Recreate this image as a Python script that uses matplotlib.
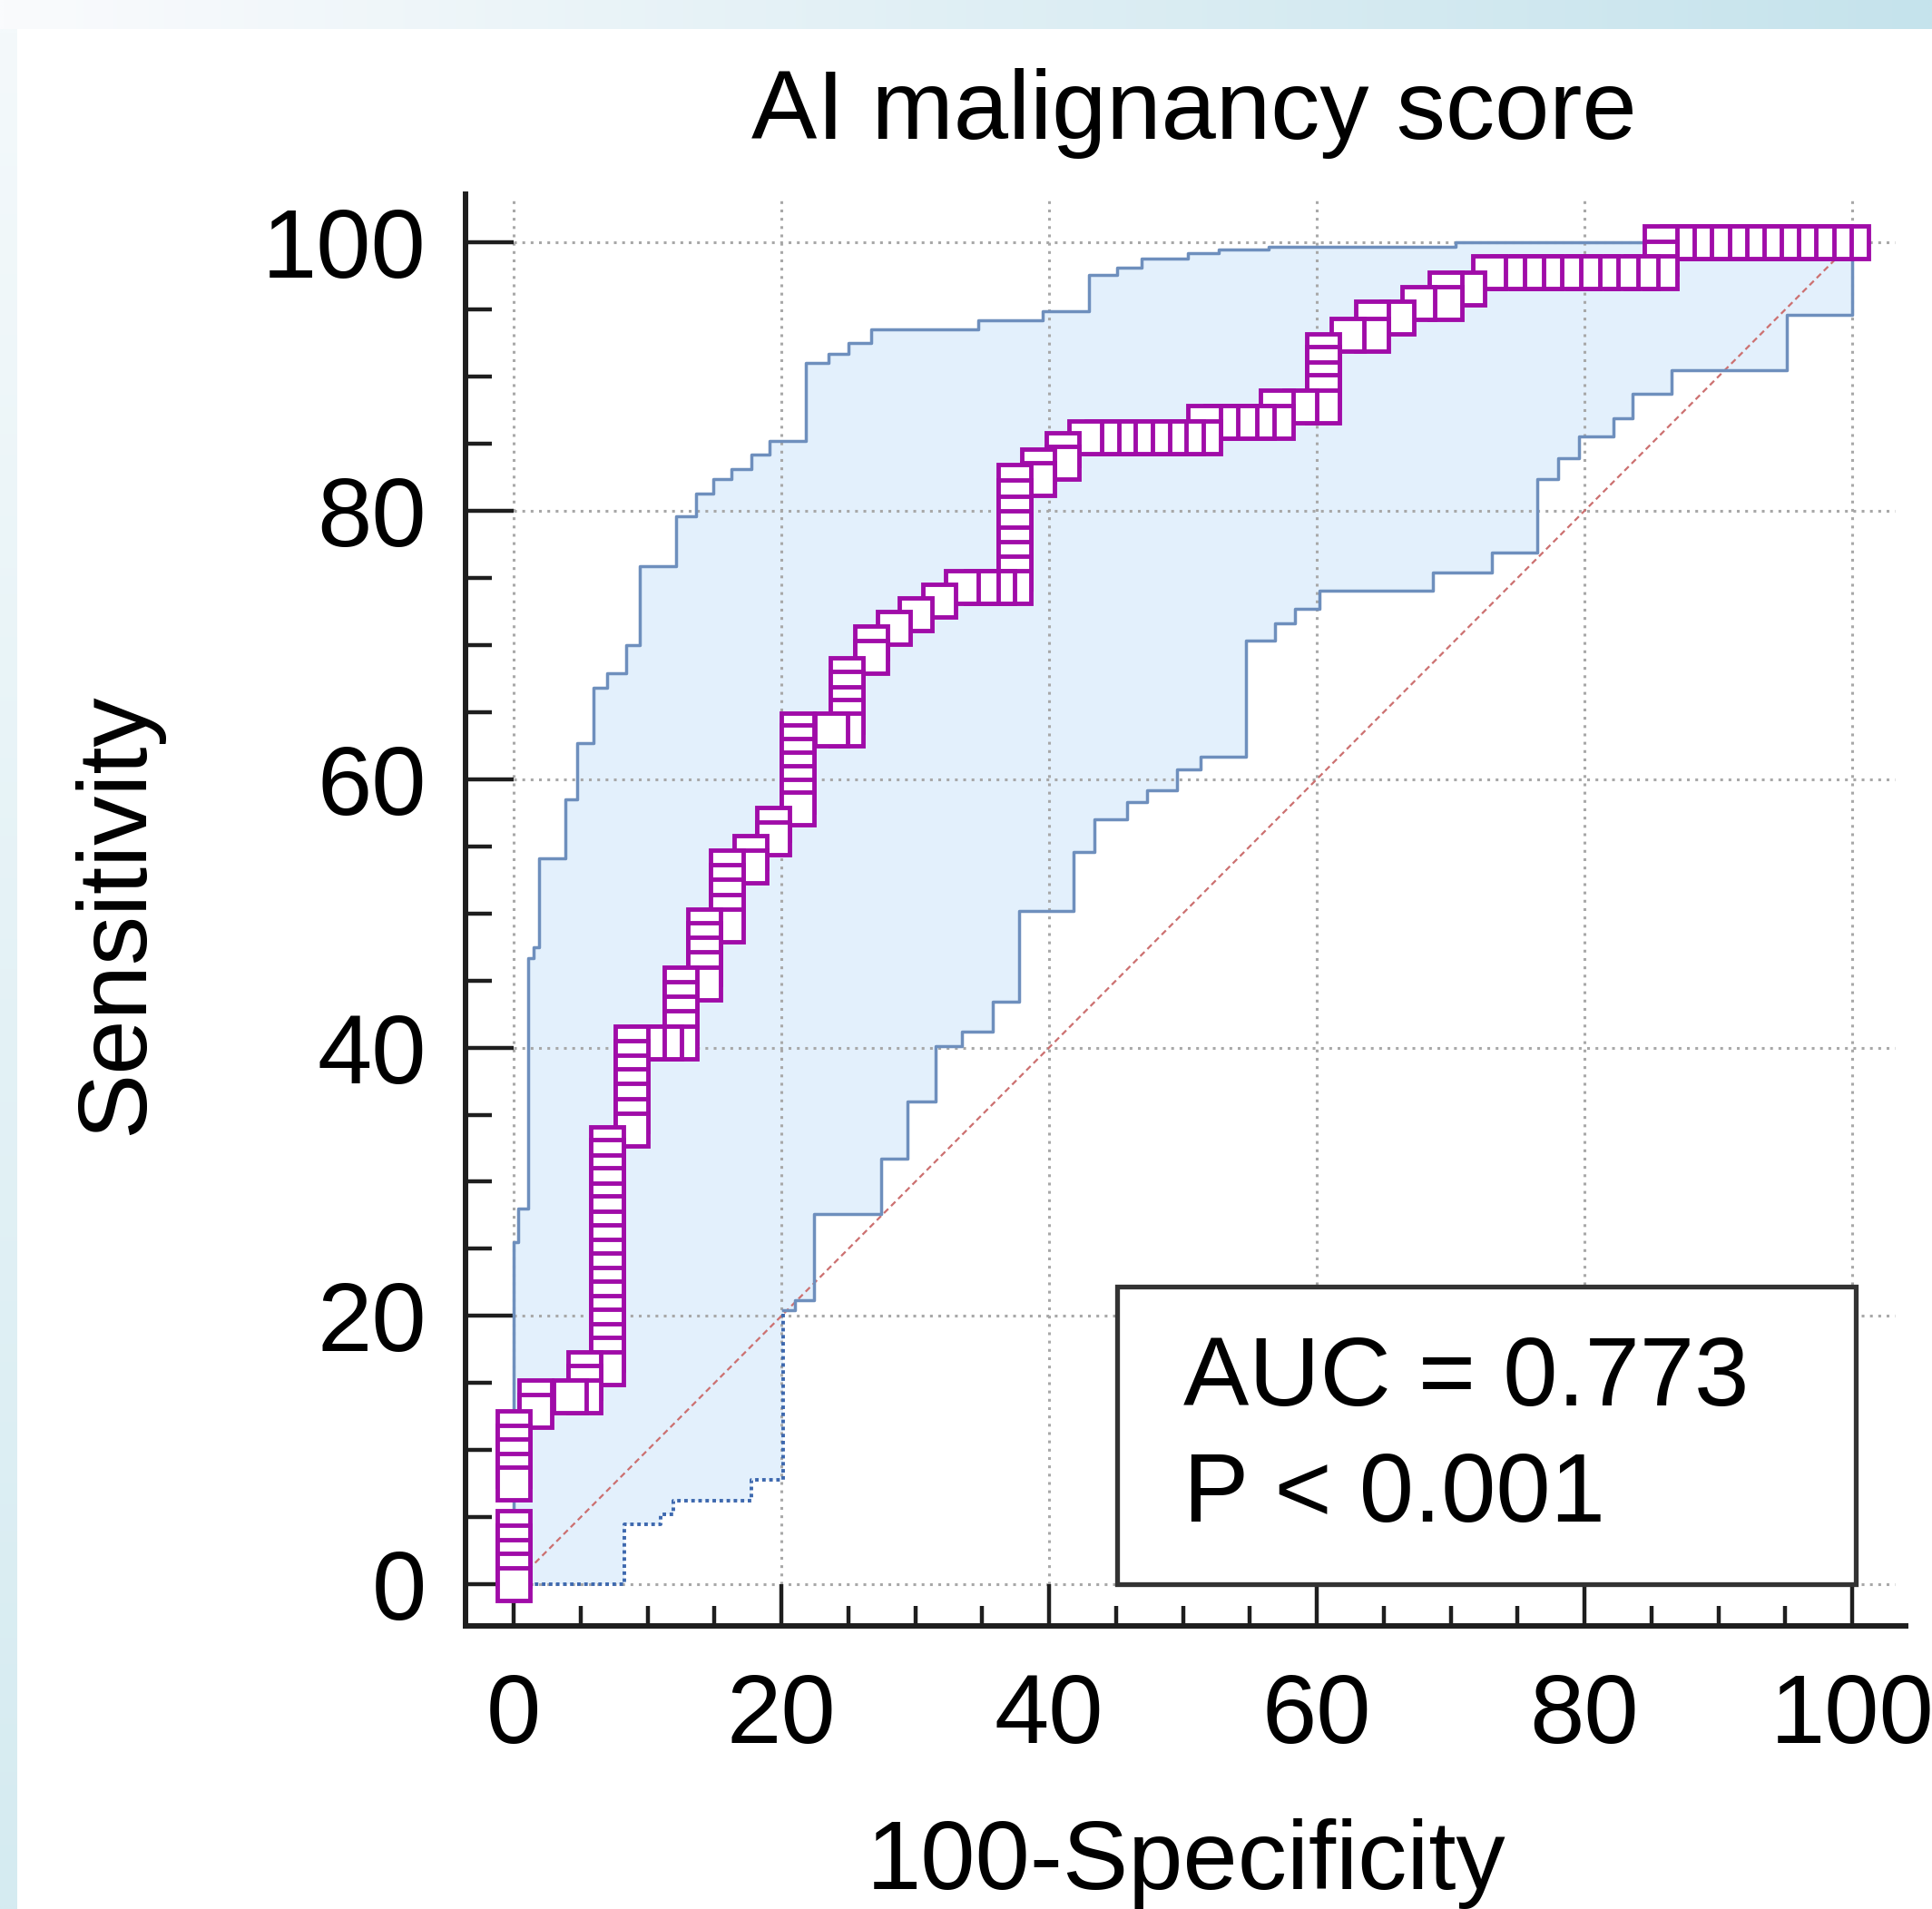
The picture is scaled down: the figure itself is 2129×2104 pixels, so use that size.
import numpy as np
import matplotlib
matplotlib.use("Agg")
import matplotlib.pyplot as plt
from matplotlib.patches import Rectangle
from matplotlib.ticker import MultipleLocator, FixedLocator

plt.rcParams['font.family'] = ['Liberation Sans', 'DejaVu Sans']

# ---------------- data ----------------
title = 'AI malignancy score'
xlabel = '100-Specificity'
ylabel = 'Sensitivity'
stat_lines = ['AUC = 0.773', 'P < 0.001']
major_ticks = [0, 20, 40, 60, 80, 100]

roc_fpr = [
    0, 0, 0, 0, 0, 0, 0, 0, 0, 0,
    1.6, 1.6,
    4.2, 5.3, 5.3, 5.3,
    7.0, 7.0, 7.0, 7.0, 7.0, 7.0, 7.0, 7.0, 7.0, 7.0, 7.0, 7.0, 7.0, 7.0, 7.0, 7.0, 7.0,
    8.8, 8.8, 8.8, 8.8, 8.8, 8.8, 8.8,
    10.0, 11.3, 12.5, 12.5, 12.5, 12.5, 12.5,
    14.2, 14.2, 14.2, 14.2, 14.2,
    15.9, 15.9, 15.9, 15.9, 15.9,
    17.7, 17.7,
    19.4, 19.4,
    21.2, 21.2, 21.2, 21.2, 21.2, 21.2, 21.2,
    23.7, 24.9, 24.9, 24.9, 24.9, 24.9,
    26.7, 26.7, 28.4, 30.0, 31.8, 33.5, 35.0, 36.2,
    37.4, 37.4, 37.4, 37.4, 37.4, 37.4, 37.4, 37.4,
    39.2, 39.2, 41.0, 41.0,
    42.7, 44.0, 45.2, 46.5, 47.8, 49.0, 50.3,
    51.6, 51.6, 52.9, 54.3, 55.6, 57.0,
    57.0, 58.8,
    60.5, 60.5, 60.5, 60.5, 60.5,
    62.3, 64.1, 64.1, 66.0, 67.6, 69.6, 69.6, 71.3, 72.9,
    74.3, 75.7, 77.1, 78.5, 79.9, 81.3, 82.8, 84.3, 85.7,
    85.7, 85.7,
    87.0, 88.3, 89.6, 90.9, 92.2, 93.5, 94.8, 96.1, 97.4, 98.7, 100.0,
]
roc_sens = [
    0, 1.1, 2.1, 3.2, 4.3, 7.5, 8.5, 9.6, 10.6, 11.7,
    12.9, 14.0,
    14.0, 14.0, 15.1, 16.1,
    16.1, 17.2, 18.2, 19.3, 20.3, 21.4, 22.4, 23.5, 24.5, 25.6, 26.6, 27.7, 28.7, 29.8, 30.8, 31.9, 32.9,
    33.9, 35.0, 36.1, 37.2, 38.2, 39.3, 40.4,
    40.4, 40.4, 40.4, 41.5, 42.6, 43.7, 44.8,
    44.8, 45.9, 47.0, 48.1, 49.1,
    49.1, 50.2, 51.3, 52.4, 53.5,
    53.5, 54.6,
    55.6, 56.7,
    57.8, 58.8, 59.8, 60.8, 61.8, 62.8, 63.7,
    63.7, 63.7, 64.7, 65.7, 66.8, 67.8,
    69.1, 70.2, 71.3, 72.3, 73.3, 74.3, 74.3, 74.3,
    74.3, 75.4, 76.5, 77.6, 78.8, 79.9, 81.1, 82.2,
    82.4, 83.4, 83.6, 84.6,
    85.5, 85.5, 85.5, 85.5, 85.5, 85.5, 85.5,
    85.5, 86.6, 86.6, 86.6, 86.6, 86.6,
    87.8, 87.8,
    87.8, 88.9, 89.9, 91.0, 92.0,
    93.1, 93.1, 94.4, 94.4, 95.5, 95.5, 96.6, 96.6, 97.8,
    97.8, 97.8, 97.8, 97.8, 97.8, 97.8, 97.8, 97.8, 97.8,
    98.9, 100.0,
    100.0, 100.0, 100.0, 100.0, 100.0, 100.0, 100.0, 100.0, 100.0, 100.0, 100.0,
]

# upper 95% CI (step corners: x where the line rises, y after the rise)
upper_x = [0, 0, 0.35, 1.1, 1.5, 1.9, 3.85, 4.75, 5.95, 7.0, 8.4, 9.45, 12.15, 13.6,
           14.9, 16.25, 17.75, 19.1, 21.85, 23.5, 25.0, 26.7, 34.7, 39.5, 43.0, 45.1,
           46.9, 50.4, 52.7, 56.4, 70.4, 100.0]
upper_y = [0, 25.5, 28.0, 46.7, 47.5, 54.1, 58.5, 62.7, 66.8, 67.9, 70.0, 75.9, 79.6, 81.3,
           82.4, 83.1, 84.2, 85.2, 91.0, 91.7, 92.5, 93.5, 94.2, 94.9, 97.6, 98.1,
           98.8, 99.2, 99.5, 99.7, 100.0, 100.0]

# lower 95% CI, dotted part then solid part
lower_dot_x = [0, 8.25, 11.0, 11.9, 17.75, 20.1]
lower_dot_y = [0, 4.5, 5.2, 6.2, 7.8, 20.4]
lower_x = [20.1, 21.0, 22.45, 27.45, 29.4, 31.5, 33.5, 35.8, 37.75, 41.8, 43.4, 45.8,
           47.3, 49.55, 51.3, 54.7, 56.9, 58.4, 60.2, 68.7, 73.1, 76.5, 78.0, 79.6,
           82.2, 83.6, 86.5, 95.1, 100.0]
lower_y = [20.4, 21.2, 27.6, 31.7, 36.0, 40.1, 41.2, 43.4, 50.2, 54.6, 57.0, 58.3,
           59.2, 60.75, 61.65, 70.3, 71.6, 72.7, 74.05, 75.4, 76.9, 82.4, 83.9, 85.55,
           86.9, 88.7, 90.45, 94.6, 100.0]

diag_x = [0, 100]
diag_y = [0, 100]


def expand_steps(xs, ys):
    vx, vy = [xs[0]], [ys[0]]
    for i in range(1, len(xs)):
        vx += [xs[i], xs[i]]
        vy += [ys[i - 1], ys[i]]
    return vx, vy


# ---------------- figure ----------------
W, H = 2129, 2104
fig = plt.figure(figsize=(W / 100, H / 100), dpi=100)
fig.patch.set_facecolor('white')

# decorative background strips
bg = fig.add_axes([0, 0, 1, 1], zorder=-10)
c0 = np.array([250, 251, 253]) / 255
c1 = np.array([197, 227, 236]) / 255
t = np.linspace(0, 1, 256)
top_grad = (c0[None, :] * (1 - t[:, None]) + c1[None, :] * t[:, None])[None, :, :]
bg.imshow(top_grad, extent=(0, W, 32, 0), aspect='auto', interpolation='bilinear')
d0 = np.array([244, 249, 251]) / 255
d1 = np.array([213, 235, 241]) / 255
left_grad = (d0[None, :] * (1 - t[:, None]) + d1[None, :] * t[:, None])[:, None, :]
bg.imshow(left_grad, extent=(0, 19, H, 32), aspect='auto', interpolation='bilinear')
bg.set_xlim(0, W)
bg.set_ylim(H, 0)
bg.axis('off')

L, R, B, T = 513, 2100, 1792, 214
ax = fig.add_axes([L / W, 1 - B / H, (R - L) / W, (B - T) / H])
ax.set_facecolor('white')
ax.set_xlim(-3.6, 104)
ax.set_ylim(-3.1, 103.6)

# CI band
ux, uy = expand_steps(upper_x, upper_y)
lx_all = lower_dot_x + lower_x[1:]
ly_all = lower_dot_y + lower_y[1:]
lx, ly = expand_steps(lx_all, ly_all)
ax.fill(ux + lx[::-1], uy + ly[::-1], color='#E3F0FC', lw=0, zorder=1)

# grid
grid_kw = dict(color='#A8A8A8', lw=2.2, linestyle=(0, (1, 2)), zorder=1.5)
ax.hlines(major_ticks, 0, 103.2, **grid_kw)
ax.vlines(major_ticks, 0, 103.2, **grid_kw)

# reference diagonal
ax.plot(diag_x, diag_y, color='#CC7070', lw=1.6, linestyle=(0, (3, 2)), zorder=2)

# CI lines
ax.plot(upper_x, upper_y, drawstyle='steps-post', color='#6E8FBD', lw=2.5, zorder=3)
ax.plot(lower_x, lower_y, drawstyle='steps-post', color='#6E8FBD', lw=2.5, zorder=3)
ax.plot(lower_dot_x, lower_dot_y, drawstyle='steps-post', color='#3D68AE', lw=2.8,
        linestyle=(0, (1, 1)), zorder=3)

# ROC markers (drawn from the top-right down)
ax.plot(roc_fpr[::-1], roc_sens[::-1], linestyle='none', marker='s', ms=26.5,
        mfc='white', mec='#A00CA8', mew=3.5, zorder=4, clip_on=False)

# AUC box
ax.add_patch(Rectangle((45.1, 0.0), 55.2, 22.2, facecolor='white', edgecolor='#333333',
                       lw=3.8, zorder=5))
ax.text(50.0, 13.3, stat_lines[0], fontsize=78, ha='left', va='baseline', zorder=6)
ax.text(50.0, 4.7, stat_lines[1], fontsize=78, ha='left', va='baseline', zorder=6)

# axes styling
for s in ['top', 'right']:
    ax.spines[s].set_visible(False)
for s in ['left', 'bottom']:
    ax.spines[s].set_linewidth(4.3)
    ax.spines[s].set_color('#1E1E1E')

ax.xaxis.set_major_locator(FixedLocator(major_ticks))
ax.yaxis.set_major_locator(FixedLocator(major_ticks))
ax.xaxis.set_minor_locator(MultipleLocator(5))
ax.yaxis.set_minor_locator(MultipleLocator(5))
ax.set_xticklabels([str(v) for v in major_ticks])
ax.set_yticklabels([str(v) for v in major_ticks])
ax.tick_params(axis='x', which='major', direction='in', length=33, width=3.2,
               color='#1E1E1E', labelsize=78, pad=37)
ax.tick_params(axis='x', which='minor', direction='in', length=16, width=3.2,
               color='#1E1E1E')
ax.tick_params(axis='y', which='major', direction='in', length=38, width=3.2,
               color='#1E1E1E', labelsize=78, pad=31)
ax.tick_params(axis='y', which='minor', direction='in', length=21, width=3.2,
               color='#1E1E1E')

# titles / labels
fig.text(1316 / W, 1 - 153 / H, title, fontsize=78, ha='center', va='baseline')
fig.text(1307 / W, 1 - 2082 / H, xlabel, fontsize=78, ha='center', va='baseline')
fig.text(157 / W, 1 - 1007 / H, ylabel, fontsize=78, ha='center', va='baseline',
         rotation=90, rotation_mode='anchor')

fig.savefig('out.png', dpi=100)
